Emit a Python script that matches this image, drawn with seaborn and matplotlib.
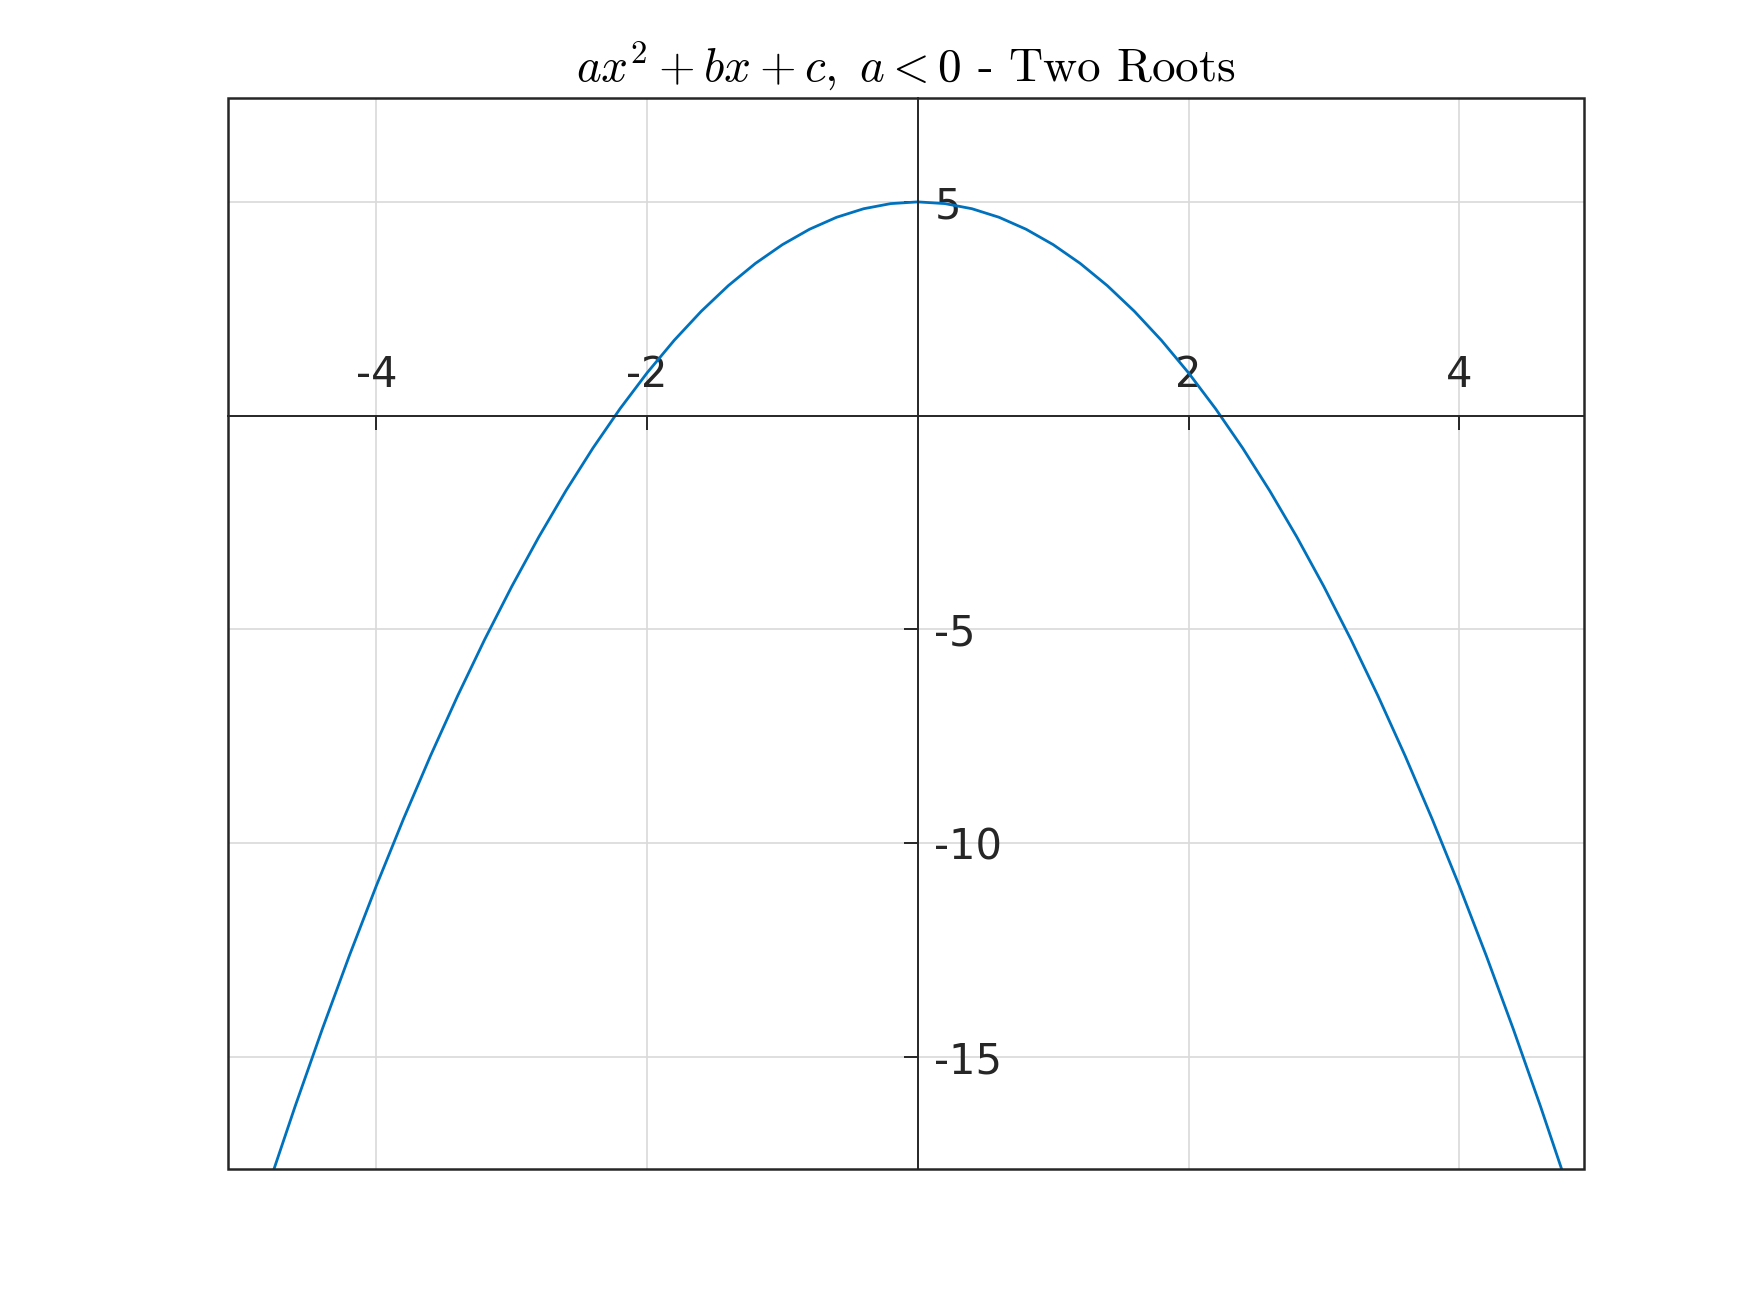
import matplotlib
matplotlib.use('Agg')
import matplotlib.pyplot as plt
import seaborn as sns
import pandas as pd
from matplotlib.patches import Rectangle

# curve points
x_vals = [-5.0, -4.8, -4.6, -4.4, -4.2, -4.0, -3.8, -3.6, -3.4, -3.2, -3.0,
          -2.8, -2.6, -2.4, -2.2, -2.0, -1.8, -1.6, -1.4, -1.2, -1.0,
          -0.8, -0.6, -0.4, -0.2, 0.0, 0.2, 0.4, 0.6, 0.8, 1.0,
          1.2, 1.4, 1.6, 1.8, 2.0, 2.2, 2.4, 2.6, 2.8, 3.0,
          3.2, 3.4, 3.6, 3.8, 4.0, 4.2, 4.4, 4.6, 4.8, 5.0]
y_vals = [-20.0, -18.04, -16.16, -14.36, -12.64, -11.0, -9.44, -7.96, -6.56, -5.24, -4.0,
          -2.84, -1.76, -0.76, 0.16, 1.0, 1.76, 2.44, 3.04, 3.56, 4.0,
          4.36, 4.64, 4.84, 4.96, 5.0, 4.96, 4.84, 4.64, 4.36, 4.0,
          3.56, 3.04, 2.44, 1.76, 1.0, 0.16, -0.76, -1.76, -2.84, -4.0,
          -5.24, -6.56, -7.96, -9.44, -11.0, -12.64, -14.36, -16.16, -18.04, -20.0]
x_ticks = [-4, -2, 2, 4]
y_ticks = [-15, -10, -5, 5]
title = r'$ax^2+bx+c,\ a<0$ - Two Roots'

df = pd.DataFrame({'x': x_vals, 'y': y_vals})

sns.set_style('white')
plt.rcParams['axes.unicode_minus'] = False
plt.rcParams['mathtext.fontset'] = 'cm'

axis_col = '#262626'
fig = plt.figure(figsize=(8.75, 6.565), dpi=200)
ax = fig.add_axes([0.13, 0.11, 0.775, 0.815])

sns.lineplot(data=df, x='x', y='y', sort=False, color='#0072BD', linewidth=1.0, ax=ax)

ax.set_xlim(-5.1, 4.92)
ax.set_ylim(-17.62, 7.42)
ax.set_xlabel('')
ax.set_ylabel('')

# axes through the origin: labels above / right of the lines
for s in ['left', 'bottom']:
    ax.spines[s].set_visible(False)
ax.spines['top'].set_position(('data', 0))
ax.spines['right'].set_position(('data', 0))
for s in ['top', 'right']:
    ax.spines[s].set_color(axis_col)
    ax.spines[s].set_linewidth(0.7)
ax.xaxis.set_ticks_position('top')
ax.yaxis.set_ticks_position('right')
ax.set_xticks(x_ticks)
ax.set_yticks(y_ticks)
ax.set_xticklabels([str(t) for t in x_ticks])
ax.set_yticklabels([str(t) for t in y_ticks])
ax.tick_params(axis='x', direction='in', length=5, width=0.7, color=axis_col,
               labelsize=15, labelcolor=axis_col, pad=7)
ax.tick_params(axis='y', direction='in', length=5, width=0.7, color=axis_col,
               labelsize=15, labelcolor=axis_col, pad=6)

# grid (including zero lines underneath the axes)
for t in x_ticks + [0]:
    ax.axvline(t, color='#d9d9d9', linewidth=0.6, zorder=0)
for t in y_ticks + [0]:
    ax.axhline(t, color='#d9d9d9', linewidth=0.6, zorder=0)

# outer box
ax.add_patch(Rectangle((0, 0), 1, 1, transform=ax.transAxes, fill=False,
                       edgecolor=axis_col, linewidth=0.9, clip_on=False, zorder=5))

ax.set_title(title, family='cmr10', fontsize=17, color='black', pad=6.5)

fig.savefig('out.png', dpi=200)
